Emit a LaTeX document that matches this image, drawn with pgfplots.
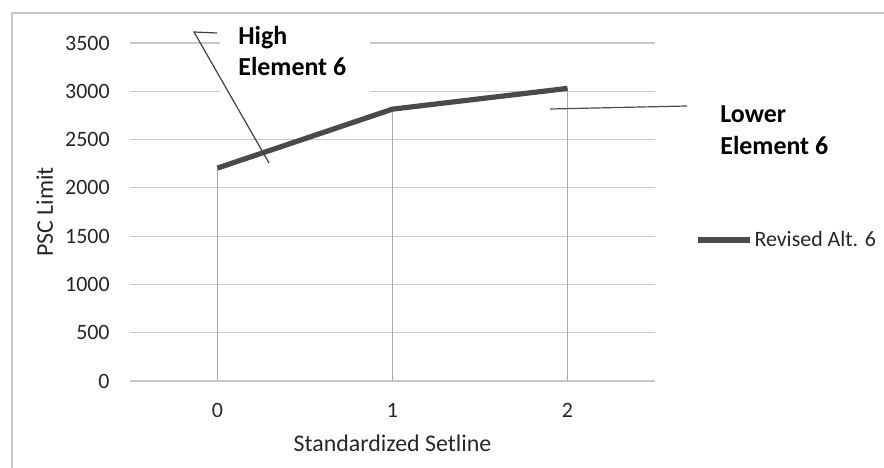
\documentclass[border=0pt]{standalone}
\usepackage{pgfplots}
\pgfplotsset{compat=1.18}
\usepackage{fontspec}
\setmainfont{Carlito}
\definecolor{serie}{HTML}{4A4A4A}
\definecolor{gridc}{HTML}{C8C8C8}
\definecolor{dropc}{HTML}{A8A8A8}
\definecolor{txt}{HTML}{262626}

\begin{document}
\begin{tikzpicture}
\useasboundingbox (0bp,0bp) rectangle (442bp,234bp);
\draw[gray!45, line width=0.6bp] (6bp,-5bp) -- (6bp,227.5bp) -- (450bp,227.5bp);
\begin{axis}[
  at={(65bp,43.5bp)}, anchor=south west,
  scale only axis, width=262.5bp, height=169bp,
  xmin=-0.5, xmax=2.5, ymin=0, ymax=3500,
  xtick={0,1,2}, ytick={0,500,...,3500},
  axis line style={draw=none}, major tick length=0pt,
  ymajorgrids, grid style={draw=gridc, line width=0.6bp},
  /pgf/number format/assume math mode=true,
  /pgf/number format/1000 sep={},
  tick label style={font=\fontsize{11}{13}\selectfont, text=txt},
  yticklabel style={inner sep=0pt, anchor=east, xshift=-10bp},
  xticklabel style={inner sep=0pt, yshift=-11bp},
  xlabel={Standardized Setline}, ylabel={PSC Limit},
  label style={font=\fontsize{12}{14}\selectfont, text=txt, inner sep=0pt},
  x label style={at={(axis description cs:0.5,0)}, anchor=base, yshift=-35.5bp},
  y label style={at={(axis description cs:0,0.5)}, anchor=base, yshift=38.5bp},
  legend style={at={(1.076,0.417)}, anchor=west, draw=none, fill=none,
    font=\fontsize{11}{13}\selectfont, text=txt, inner sep=0pt,
    nodes={inner sep=1bp}},
  legend image code/.code={\draw[#1] (0bp,0bp) -- (26bp,0bp);},
]
% drop lines
\addplot[ycomb, draw=dropc, line width=0.6bp, forget plot] coordinates {
(0, 2205)
(1, 2815)
(2, 3030)
};
% Revised Alt. 6
\addplot[serie, line width=2.6bp, line join=round] coordinates {
(0, 2205)
(1, 2815)
(2, 3030)
};
\addlegendentry{Revised Alt. 6}
\end{axis}

% annotation boxes
\fill[white] (110bp,184bp) rectangle (185bp,224bp);
\node[anchor=base west, inner sep=0pt, font=\bfseries\fontsize{13}{15}\selectfont, text=black] at (119bp,211.5bp) {High};
\node[anchor=base west, inner sep=0pt, font=\bfseries\fontsize{13}{15}\selectfont, text=black] at (119bp,196bp) {Element 6};
\node[anchor=base west, inner sep=0pt, font=\bfseries\fontsize{13}{15}\selectfont, text=black] at (360bp,172.5bp) {Lower};
\node[anchor=base west, inner sep=0pt, font=\bfseries\fontsize{13}{15}\selectfont, text=black] at (360bp,156.5bp) {Element 6};
\draw[black!75, line width=0.6bp] (108.5bp,217.5bp) -- (97bp,218bp) -- (134.5bp,152.5bp);
\draw[black!70, line width=0.6bp] (275bp,179.5bp) -- (343.5bp,181bp);
\end{tikzpicture}
\end{document}
